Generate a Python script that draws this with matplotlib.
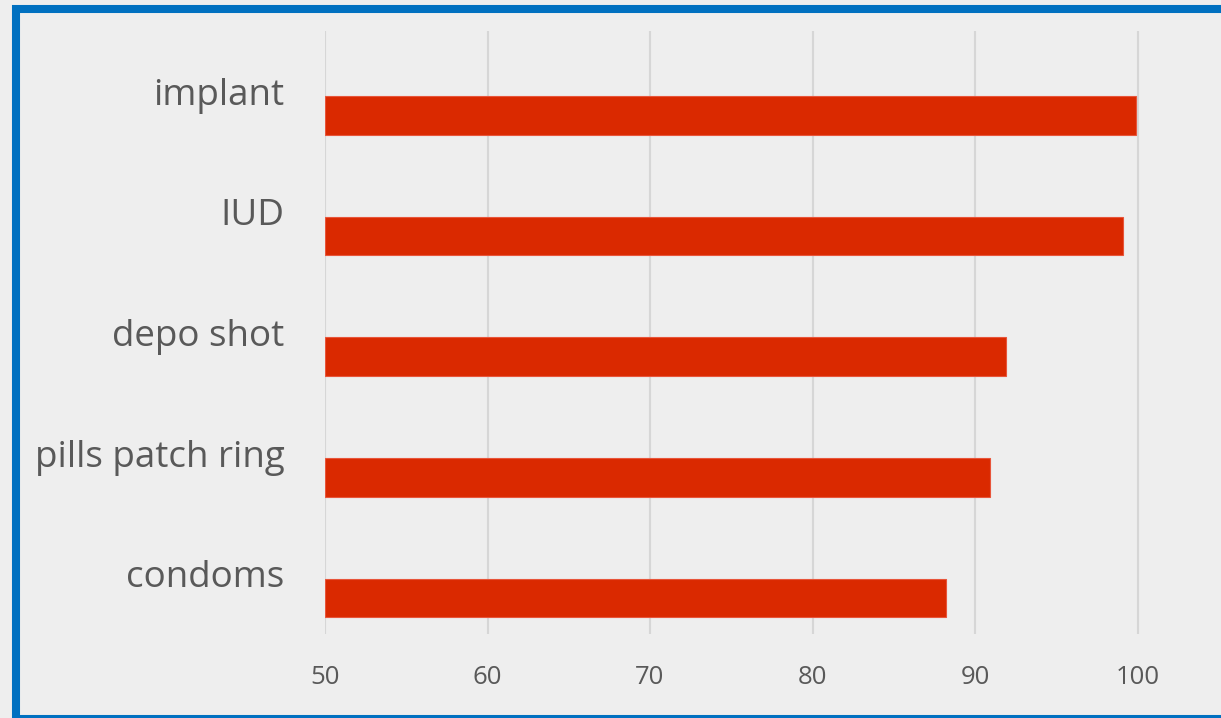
import matplotlib.pyplot as plt
from matplotlib.patches import Rectangle

metodos = ['condoms', 'pills patch ring', 'depo shot', 'IUD', 'implant']
eficacia = [88.2, 90.9, 91.9, 99.1, 99.9]
ticks_x = [50, 60, 70, 80, 90, 100]

plt.rcParams['font.family'] = ['Open Sans', 'DejaVu Sans']

W, H = 1221, 718
fig = plt.figure(figsize=(W / 100, H / 100), dpi=100)
fig.patch.set_facecolor('#eeeeee')

# moldura azul
fig.patches.append(Rectangle((16 / W, 1 - 719 / H), 1.1, (719 - 9) / H,
                             transform=fig.transFigure, fill=False,
                             edgecolor='#0070c0', linewidth=5.8, zorder=0))

ax = fig.add_axes([325 / W, (H - 634) / H, (W - 325) / W, (634 - 31) / H])
ax.set_facecolor('none')

pos = list(range(len(metodos)))
ax.barh([p - 0.2 for p in pos], [v - 50 for v in eficacia], left=50,
        height=0.32, color='#da2900', edgecolor='#e8553a', linewidth=0.8,
        zorder=3)

ax.set_xlim(50, 50 + (W - 325) / 16.25)
ax.set_ylim(-0.5, len(metodos) - 0.5)
ax.set_xticks(ticks_x)
ax.set_xticklabels([str(t) for t in ticks_x], fontsize=18.5, color='#595959')
ax.set_yticks(pos)
ax.set_yticklabels(metodos, fontsize=26.5, color='#595959')
ax.tick_params(axis='x', length=0, pad=22)
ax.tick_params(axis='y', length=0, pad=29)
ax.grid(axis='x', color='#d6d6d6', linewidth=1.5, zorder=0)
ax.set_axisbelow(True)
for s in ax.spines.values():
    s.set_visible(False)

fig.savefig('out.png', dpi=100, facecolor=fig.get_facecolor())
